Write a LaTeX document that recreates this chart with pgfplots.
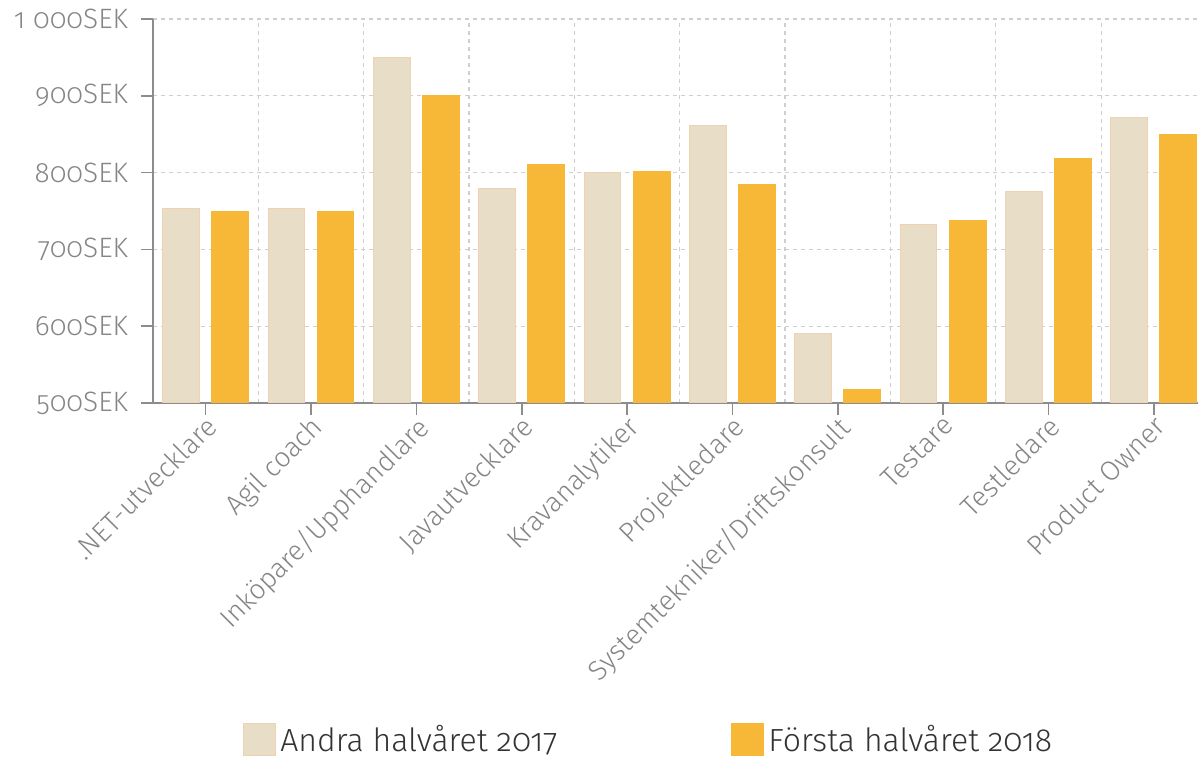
\documentclass[border=0pt]{standalone}
\usepackage{fontspec}
\setmainfont{Fira Sans Light}[Numbers=OldStyle]
\usepackage{pgfplots}
\pgfplotsset{compat=1.18}

\definecolor{andra}{HTML}{E8DDC6}
\definecolor{andraedge}{HTML}{F0D2B2}
\definecolor{forsta}{HTML}{F7B737}
\definecolor{tickgray}{HTML}{858585}
\definecolor{axgray}{HTML}{8C8C8C}
\definecolor{gridgray}{HTML}{CFCFCF}

\begin{document}
\begin{tikzpicture}
\useasboundingbox (-76.5pt,-177.5pt) rectangle (522.5pt,201.5pt);
\begin{axis}[
    at={(0pt,0pt)}, anchor=south west,
    width=522.5pt, height=192pt, scale only axis,
    ybar,
    bar width=0.35,
    xmin=-0.5, xmax=9.42,
    ymin=500, ymax=1000,
    axis x line=bottom, axis y line=left,
    axis line style={-, axgray, line width=1pt},
    tick align=outside,
    major tick length=6pt,
    minor tick length=0pt,
    tick style={axgray, line width=0.8pt},
    xtick={0,...,9},
    xticklabels={.NET-utvecklare, Agil coach, Inköpare/Upphandlare, Javautvecklare, Kravanalytiker, Projektledare, Systemtekniker/Driftskonsult, Testare, Testledare, Product Owner},
    minor xtick={0.5,1.5,...,8.5},
    xminorgrids=true,
    ymajorgrids=true,
    ytick={500,600,...,1000},
    yticklabels={500SEK,600SEK,700SEK,800SEK,900SEK,{1 000SEK}},
    grid style={gridgray, dash pattern=on 2pt off 2pt, line width=0.6pt},
    minor grid style={gridgray, dash pattern=on 2pt off 2pt, line width=0.6pt},
    xticklabel style={font=\fontsize{13.8}{15}\selectfont, color=tickgray, rotate=45, anchor=north east, inner sep=1pt, xshift=1pt, yshift=2pt},
    yticklabel style={font=\fontsize{14}{16}\selectfont, color=tickgray, xshift=-3pt},
    legend columns=2,
    legend style={at={(0.086,-0.876)}, anchor=west, draw=none, fill=none, inner sep=0pt,
        font=\fontsize{16}{18}\selectfont, text=black!80,
        /tikz/every even column/.append style={column sep=85pt}},
    legend image code/.code={\fill[#1] (0pt,-8pt) rectangle (16pt,8pt);},
]
\addplot[fill=andra, draw=andraedge, line width=0.5pt, bar shift=-0.233]
    coordinates {(0,753) (1,753) (2,950) (3,779) (4,800) (5,861) (6,590) (7,733) (8,776) (9,872)};
\addplot[fill=forsta, draw=forsta, line width=0.5pt, bar shift=0.233]
    coordinates {(0,750) (1,750) (2,901) (3,811) (4,802) (5,784) (6,518) (7,738) (8,819) (9,850)};
\legend{Andra halvåret 2017, Första halvåret 2018}
\end{axis}
\end{tikzpicture}
\end{document}
